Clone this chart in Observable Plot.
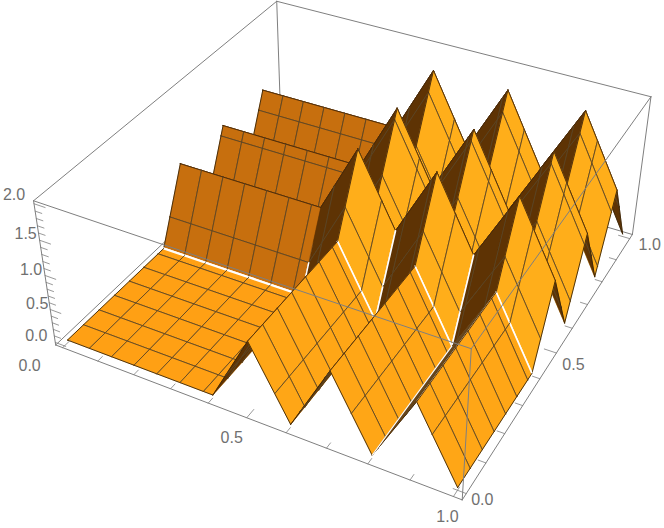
<!DOCTYPE html>
<html><head><meta charset="utf-8">
<script src="https://cdn.jsdelivr.net/npm/d3@7"></script>
<script src="https://cdn.jsdelivr.net/npm/@observablehq/plot@0.6"></script>
<style>html,body{margin:0;padding:0;background:#fff}svg{display:block}</style>
</head><body><div id="c"></div>
<script>
const waveKnots=[0,.4,.5,.6,.7,.8,.9,1];
const waveValues=[0,0,1,0,1,0,1,0];
const meshCount=15;
const crests=[.5,.7,.9];
const whites=[["y",.4,0,.4,2.2],["y",.4,.5,.6,1.6],["y",.4,.7,.8,1.6],["y",.4,.9,1,1.6],["x",.4,.4,.4375,1.4],["x",.6,.4,.5,1.6],["x",.8,.4,.5,1.6]];
const stripWhites=[.8,.9];
const stripEnd=.9,stripY=.4;
const xTickValues=[0,.5,1],zTickValues=[0,.5,1,1.5,2];
const camera=[340.340,273.951,-11.734,66.974,94.417,-178.341,-75.923,339.570,-0.10900,0.20409,-0.03312,1];
const M=camera;
const project=(x,y,z)=>{const w=M[8]*x+M[9]*y+M[10]*z+M[11];return [(M[0]*x+M[1]*y+M[2]*z+M[3])/w,(M[4]*x+M[5]*y+M[6]*z+M[7])/w]};
const wave=t=>{for(let i=1;i<waveKnots.length;i++)if(t<=waveKnots[i]+1e-9){const a=(t-waveKnots[i-1])/(waveKnots[i]-waveKnots[i-1]);return waveValues[i-1]+a*(waveValues[i]-waveValues[i-1])}return 0};
const surf=(x,y)=>wave(x)+wave(y);
const meshVals=d3.range(1,meshCount+1).map(k=>k/(meshCount+1));
const grid=[...new Set([...waveKnots,...meshVals].map(v=>+v.toFixed(5)))].sort((a,b)=>a-b);
const eq=(a,b)=>Math.abs(a-b)<1e-4;
const rows=[];let id=0;
const poly=(pts,fill,stroke,sw)=>{id++;for(const p of pts){const q=project(...p);rows.push({id,px:q[0],py:q[1],f:fill,s:stroke,w:sw})}};
function cellColor(x0,x1,y0,y1){
 const pts=[[x0,y0],[x1,y0],[x1,y1],[x0,y1]].map(([a,b])=>project(a,b,surf(a,b)));
 const area=d3.polygonArea(pts);
 const flat=d3.polygonArea([[x0,y0],[x1,y0],[x1,y1],[x0,y1]].map(([a,b])=>project(a,b,0)));
 if(area*flat<0)return "#5e3304";
 const fx=surf(x1,y0)-surf(x0,y0),fy=surf(x0,y1)-surf(x0,y0);
 if(Math.abs(fx)<1e-9&&Math.abs(fy)<1e-9)return "#ffa014";
 if(Math.abs(fx)<1e-9)return fy>0?"#c76f0e":"#8a4c08";
 if(Math.abs(fy)<1e-9)return fx<0?"#ffa616":"#7a4508";
 return fx<0?"#ffae1a":"#5e3304";
}
function edgeStyle(axis,val,a,b){
 for(const [ax,v,s,e,w] of whites)if(ax===axis&&eq(v,val)&&a>=s-1e-4&&b<=e+1e-4)return ["#ffffff",w];
 if(eq(val,0)||eq(val,1))return ["#3a2405",.9];
 if(crests.some(c=>eq(c,val)))return ["#47290a",.9];
 if(meshVals.some(c=>eq(c,val)))return ["#5a4526",.9];
 return null}
const P=(a,b)=>[a,b,surf(a,b)];
for(let i=0;i<grid.length-1;i++){
 for(let j=grid.length-2;j>=0;j--){
  const x0=grid[i],x1=grid[i+1],y0=grid[j],y1=grid[j+1];
  const c=cellColor(x0,x1,y0,y1);
  poly([P(x0,y0),P(x1,y0),P(x1,y1),P(x0,y1),P(x0,y0)],c,c,.5);
  const edges=[["y",y0,x0,x1,P(x0,y0),P(x1,y0)],["y",y1,x0,x1,P(x0,y1),P(x1,y1)],["x",x0,y0,y1,P(x0,y0),P(x0,y1)],["x",x1,y0,y1,P(x1,y0),P(x1,y1)]];
  for(const [ax,v,a,b,p,q] of edges){const st=edgeStyle(ax,v,a,b);if(st)poly([p,q],"none",st[0],st[1])}
 }
 if(eq(grid[i+1],stripEnd))for(const v of stripWhites)poly([P(v,0),P(v,stripY)],"none","#ffffff",1.2);
}
const lo=-.02,hi=1.02,zl=-.04,zh=2.04,gray="#7f7f7f";
const seg=(arr,a,b,w=1)=>{arr.id=(arr.id||0)+1;for(const p of [a,b]){const q=project(...p);arr.push({id:arr.id,px:q[0],py:q[1],w})}};
const back=[],front=[];
seg(back,[lo,lo,zl],[lo,hi,zl]);seg(back,[lo,hi,zl],[hi,hi,zl]);seg(back,[lo,hi,zl],[lo,hi,zh]);
seg(front,[lo,lo,zl],[hi,lo,zl]);seg(front,[hi,lo,zl],[hi,hi,zl]);seg(front,[hi,hi,zl],[hi,hi,zh]);seg(front,[lo,lo,zl],[lo,lo,zh]);seg(front,[hi,lo,zl],[hi,lo,zh]);
seg(front,[lo,lo,zh],[hi,lo,zh]);seg(front,[hi,lo,zh],[hi,hi,zh]);seg(front,[hi,hi,zh],[lo,hi,zh]);seg(front,[lo,hi,zh],[lo,lo,zh]);
const ticks=d3.range(0,11).map(k=>k/10);
for(const t of ticks){const m=eq(t%.5,0)||eq(t%.5,.5)?.03:.018;seg(front,[t,lo,zl],[t,lo+m,zl],.8);seg(front,[hi,t,zl],[hi-m,t,zl],.8)}
for(const t of d3.range(0,21).map(k=>k/10)){const m=eq(t%.5,0)||eq(t%.5,.5)?.03:.018;seg(front,[lo,lo,t],[lo+m,lo,t],.8)}
const xOff=[[-33,18],[-15,20],[-6,20]],yOff=[[16,6],[17,12],[20,6]],zOff=[[-19,-7],[-13,-6],[-14,-6],[-14,-6],[-20,-9]];
const labels=[];
xTickValues.forEach((t,i)=>{const q=project(t,lo,zl);labels.push({px:q[0]+xOff[i][0],py:q[1]+xOff[i][1],t:t.toFixed(1)})});
xTickValues.forEach((t,i)=>{const q=project(hi,t,zl);labels.push({px:q[0]+yOff[i][0],py:q[1]+yOff[i][1],t:t.toFixed(1)})});
zTickValues.forEach((t,i)=>{const q=project(lo,lo,t);labels.push({px:q[0]+zOff[i][0],py:q[1]+zOff[i][1],t:t.toFixed(1)})});
const lineOpts=d=>({x:"px",y:"py",z:"id",stroke:gray,strokeWidth:"w"});
const chart=Plot.plot({width:664,height:528,margin:0,
 x:{domain:[0,664],range:[0,664],axis:null},y:{domain:[0,528],range:[0,528],axis:null},
 color:{type:"identity"},
 marks:[
  Plot.line(back,lineOpts()),
  Plot.line(rows,{x:"px",y:"py",z:"id",fill:d=>d.f,stroke:d=>d.s,strokeWidth:"w"}),
  Plot.line(front,lineOpts()),
  Plot.text(labels,{x:"px",y:"py",text:"t",fontSize:16,fontFamily:"Liberation Sans",fill:"#707070"})
 ]});
document.getElementById("c").append(chart);
</script></body></html>
